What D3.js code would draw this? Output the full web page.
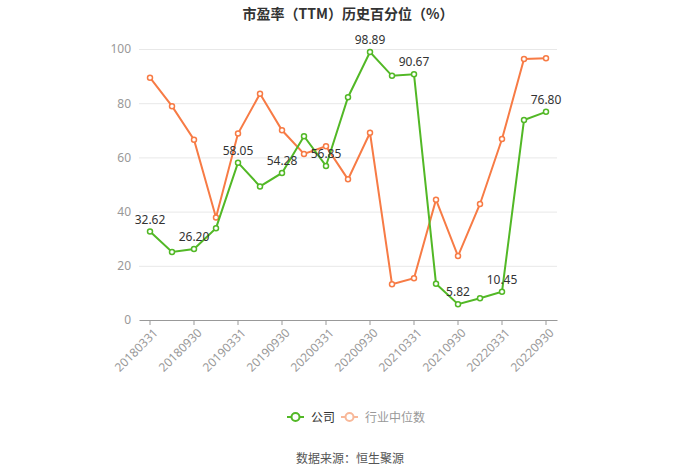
<!DOCTYPE html>
<html><head><meta charset="utf-8">
<script src="https://cdn.jsdelivr.net/npm/d3@7/dist/d3.min.js"></script>
<style>body{margin:0;background:#fff;}svg{display:block;font-family:"Noto Sans CJK SC","Noto Sans",sans-serif;}</style>
</head><body><svg id="c" width="700" height="474"></svg>
<script>
const categories = ["20180331","20180630","20180930","20181231","20190331","20190630","20190930","20191231","20200331","20200630","20200930","20201231","20210331","20210630","20210930","20211231","20220331","20220630","20220930"];
const companyValues = [32.62,25.1,26.20,33.9,58.05,49.3,54.28,67.8,56.85,82.2,98.89,90.1,90.67,13.4,5.82,8.0,10.45,73.8,76.80];
const industryValues = [89.4,78.9,66.5,37.8,68.8,83.5,70.0,61.3,64.1,51.9,69.1,13.2,15.4,44.4,23.6,42.8,66.8,96.3,96.6];
const yTicks = [0,20,40,60,80,100];
const seriesNames = ["公司","行业中位数"];
const title = "市盈率（TTM）历史百分位（%）";
const source = "数据来源：恒生聚源";

const svg = d3.select("#c");
const green = "#52b826", orange = "#f77b45";
const x = d3.scaleBand().domain(categories).range([139,557]);
const y = d3.scaleLinear().domain([0,100]).range([320,49]);
const cx = d => x(d) + x.bandwidth()/2;

svg.append("text").attr("x",348).attr("y",19).attr("text-anchor","middle")
  .attr("font-size",14).attr("font-weight","bold").attr("fill","#333").text(title);

// grid
const yAxis = d3.axisLeft(y).tickValues(yTicks).tickSize(-(557-139)).tickPadding(8);
const gy = svg.append("g").attr("transform","translate(139,0)").call(yAxis);
gy.select(".domain").remove();
gy.selectAll(".tick line").attr("stroke","#e8e8e8");
gy.selectAll(".tick").filter(d=>d===0).select("line").remove();
gy.selectAll(".tick text").attr("fill","#999").attr("font-size",12).attr("font-family","'Noto Sans',sans-serif");

// x axis
const xAxis = d3.axisBottom(x).tickValues(categories.filter((d,i)=>i%2===0)).tickSize(5).tickSizeOuter(0);
const gx = svg.append("g").attr("transform","translate(0,320)").call(xAxis);
gx.select(".domain").attr("stroke","#999");
gx.selectAll(".tick line").attr("stroke","#999");
gx.selectAll(".tick text").attr("fill","#999").attr("font-size",12).attr("font-family","'Noto Sans',sans-serif")
  .attr("text-anchor","end").attr("dy",0).attr("transform","translate(3,8) rotate(-45)");

const line = d3.line().x((d,i)=>cx(categories[i])).y(d=>y(d));
function drawSeries(vals,color){
  svg.append("path").datum(vals).attr("d",line).attr("fill","none").attr("stroke",color).attr("stroke-width",2);
  svg.append("g").selectAll("circle").data(vals).join("circle")
    .attr("cx",(d,i)=>cx(categories[i])).attr("cy",d=>y(d)).attr("r",2.5)
    .attr("fill","#fff").attr("stroke",color).attr("stroke-width",1.5);
}
drawSeries(industryValues,orange);
drawSeries(companyValues,green);

svg.append("g").selectAll("text").data(companyValues.map((v,i)=>({v,i})).filter(d=>d.i%2===0)).join("text")
  .attr("x",d=>cx(categories[d.i])).attr("y",d=>y(d.v)-8).attr("text-anchor","middle")
  .attr("font-size",12).attr("fill","#333").attr("font-family","'Noto Sans',sans-serif")
  .text(d=>d.v.toFixed(2));

// legend
const leg = [{name:seriesNames[0],color:green,text:"#333"},{name:seriesNames[1],color:"#f8b899",text:"#999"}];
const lx = [287,341];
leg.forEach((l,k)=>{
  const g = svg.append("g").attr("transform",`translate(${lx[k]},417)`);
  g.append("line").attr("x1",0).attr("x2",17).attr("stroke",l.color).attr("stroke-width",2);
  g.append("circle").attr("cx",8.5).attr("r",4).attr("fill","#fff").attr("stroke",l.color).attr("stroke-width",2);
  g.append("text").attr("x",24).attr("y",4.5).attr("font-size",12).attr("fill",l.text).text(l.name);
});

svg.append("text").attr("x",350).attr("y",463).attr("text-anchor","middle").attr("font-size",12).attr("fill","#555").text(source);
</script></body></html>
